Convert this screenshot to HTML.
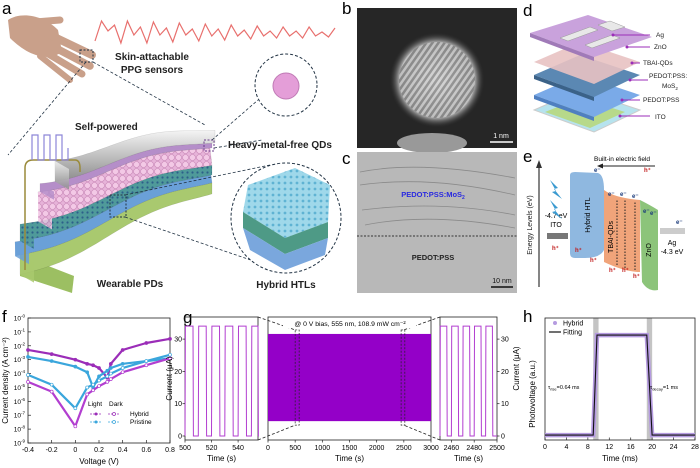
<!DOCTYPE html>
<html><head><meta charset="utf-8"><style>
html,body{margin:0;padding:0;background:#fff;width:700px;height:468px;overflow:hidden}
svg{display:block;font-family:"Liberation Sans",Arial,sans-serif}
</style></head><body>
<svg id="fig" width="700" height="468" viewBox="0 0 700 468" xmlns="http://www.w3.org/2000/svg">
<defs>
<pattern id="lat" width="5" height="5" patternUnits="userSpaceOnUse" patternTransform="rotate(35)"><rect width="5" height="5" fill="#777"/><rect width="2.5" height="5" fill="#ddd"/></pattern>
<pattern id="hex" width="6" height="6" patternUnits="userSpaceOnUse"><rect width="6" height="6" fill="#9fd8ea"/><circle cx="3" cy="3" r="1.4" fill="#5fb3d3"/></pattern>
<pattern id="dots" width="5" height="5" patternUnits="userSpaceOnUse"><rect width="5" height="5" fill="#4f9a9a"/><circle cx="2.5" cy="2.5" r="1.1" fill="#2d5f8a"/></pattern>
<pattern id="pink" width="7" height="7" patternUnits="userSpaceOnUse"><rect width="7" height="7" fill="#e7b3d9"/><circle cx="3.5" cy="3.5" r="3" fill="#f3c9e6" stroke="#c98ab8" stroke-width="0.6"/></pattern>
<radialGradient id="blob" cx="0.5" cy="0.5" r="0.5"><stop offset="0" stop-color="#ccc"/><stop offset="0.8" stop-color="#999"/><stop offset="1" stop-color="#222" stop-opacity="0"/></radialGradient>
<linearGradient id="silver" x1="0" y1="0" x2="0" y2="1"><stop offset="0" stop-color="#f4f4f4"/><stop offset="1" stop-color="#8c8c8c"/></linearGradient>
</defs>

<!-- Panel a -->
<g>
<text x="2" y="14" font-size="17">a</text>
<g fill="#c9a08a" stroke="#c9a08a" stroke-linecap="round">
<path d="M8,20 C20,12 42,14 58,30 L62,52 C48,62 28,56 10,38Z" stroke="none"/>
<line x1="48" y1="34" x2="92" y2="55" stroke-width="8"/>
<line x1="48" y1="44" x2="90" y2="66" stroke-width="7.5"/>
<line x1="45" y1="52" x2="82" y2="74" stroke-width="7"/>
<line x1="40" y1="56" x2="70" y2="80" stroke-width="6"/>
<line x1="35" y1="22" x2="60" y2="20" stroke-width="7"/>
</g>
<rect x="80" y="50" width="13" height="12" fill="none" stroke="#234" stroke-dasharray="2,1.5"/>
<path id="ppg" fill="none" stroke="#e8706e" stroke-width="1.2"/>
<text x="152" y="60" font-size="10" font-weight="bold" text-anchor="middle" fill="#222">Skin-attachable</text>
<text x="152" y="73" font-size="10" font-weight="bold" text-anchor="middle" fill="#222">PPG sensors</text>
<line x1="86" y1="62" x2="8" y2="155" stroke="#234" stroke-dasharray="3,2" stroke-width="0.8"/>
<line x1="93" y1="62" x2="205" y2="125" stroke="#234" stroke-dasharray="3,2" stroke-width="0.8"/>
<g id="device"></g>
<path d="M25,270 V168 Q25,160 33,160 H75 Q80,160 80,168 V172" fill="none" stroke="#9a8a3a" stroke-width="1.5"/>
<path d="M32,160 v-25 h6 v25 h6 v-25 h6 v25 h6 v-25 h6 v25 h6 v-12" fill="none" stroke="#8d86d8" stroke-width="1.2"/>
<text x="75" y="130" font-size="10" font-weight="bold" fill="#222">Self-powered</text>
<circle cx="286" cy="85" r="31" fill="#fff" stroke="#234" stroke-dasharray="3,2"/>
<circle cx="286" cy="86" r="13" fill="#e49ed8" stroke="#c07ab5"/>
<rect x="204" y="140" width="10" height="11" fill="none" stroke="#6a3b8a" stroke-dasharray="2,1.5"/>
<line x1="212" y1="140" x2="258" y2="100" stroke="#234" stroke-dasharray="3,2" stroke-width="0.8"/>
<line x1="214" y1="148" x2="262" y2="140" stroke="#234" stroke-dasharray="3,2" stroke-width="0.8"/>
<text x="228" y="148" font-size="10" font-weight="bold" fill="#222">Heavy-metal-free QDs</text>
<rect x="110" y="195" width="16" height="22" fill="none" stroke="#234" stroke-dasharray="2,1.5"/>
<line x1="125" y1="195" x2="270" y2="165" stroke="#234" stroke-dasharray="3,2" stroke-width="0.8"/>
<line x1="125" y1="217" x2="280" y2="270" stroke="#234" stroke-dasharray="3,2" stroke-width="0.8"/>
<circle cx="286" cy="218" r="55" fill="#fff" stroke="#234" stroke-dasharray="3,2"/>
<path d="M243,212 L248,185 L295,168 L330,185 L328,222 L285,238Z" fill="url(#hex)"/>
<path d="M243,212 L285,238 L328,222 L328,238 L285,254 L243,228Z" fill="#4e9a86"/>
<path d="M243,228 L285,254 L328,238 L325,255 L285,270 L250,250Z" fill="#7aa7dd"/>
<text x="130" y="287" font-size="10" font-weight="bold" text-anchor="middle" fill="#222">Wearable PDs</text>
<text x="286" y="288" font-size="10" font-weight="bold" text-anchor="middle" fill="#222">Hybrid HTLs</text>
</g>

<!-- Panel b -->
<g>
<text x="342" y="14" font-size="17">b</text>
<rect x="357" y="8" width="160" height="140" fill="#262626"/>
<circle cx="437" cy="80" r="48" fill="url(#blob)"/>
<circle cx="437" cy="80" r="38" fill="url(#lat)" opacity="0.55"/>
<ellipse cx="432" cy="143" rx="35" ry="10" fill="#999"/>
<line x1="490" y1="142" x2="513" y2="142" stroke="#fff" stroke-width="1.5"/>
<text x="501" y="138" font-size="7" fill="#fff" text-anchor="middle">1 nm</text>
</g>

<!-- Panel c -->
<g>
<text x="342" y="164" font-size="17">c</text>
<rect x="357" y="152" width="160" height="141" fill="#b8b8b8"/>
<path d="M360,172 Q420,160 515,178 M360,185 Q430,175 515,195 M362,210 Q440,200 515,215 M365,225 Q430,212 515,228" stroke="#8a8a8a" stroke-width="0.8" fill="none"/>
<line x1="357" y1="236" x2="517" y2="236" stroke="#333" stroke-dasharray="2,1.5"/>
<text x="433" y="197" font-size="7.5" font-weight="bold" fill="#2a2ae0" text-anchor="middle">PEDOT:PSS:MoS<tspan font-size="5" dy="2">2</tspan></text>
<text x="433" y="260" font-size="7.5" font-weight="bold" fill="#222" text-anchor="middle">PEDOT:PSS</text>
<line x1="491" y1="287" x2="513" y2="287" stroke="#111" stroke-width="1.5"/>
<text x="502" y="283" font-size="7" fill="#111" text-anchor="middle">10 nm</text>
</g>

<!-- Panel d -->
<g>
<text x="523" y="16" font-size="17">d</text>
<path d="M534,110 L580,90 L640,110 L594,132Z" fill="#b6e3ee" stroke="#ccc"/>
<path d="M545,112 L580,98 L625,112 L590,128Z" fill="#b7d98a"/>
<path d="M534,95 L580,75 L640,95 L594,117Z" fill="#7aaae8"/>
<path d="M534,95 L594,117 L594,121 L534,99Z" fill="#4f7fc0"/>
<path d="M534,75 L580,55 L640,75 L594,97Z" fill="#5b88b3"/>
<path d="M534,75 L594,97 L594,101 L534,79Z" fill="#3b6288"/>
<path d="M534,62 L580,42 L640,62 L594,84Z" fill="#e8c2c2" opacity="0.9"/>
<path d="M530,33 L588,15 L652,37 L594,57Z" fill="#c9a2dc"/>
<path d="M530,33 L594,57 L594,61 L530,37Z" fill="#a07ab8"/>
<path d="M560,38 L590,27 L598,30 L568,41Z M585,45 L612,35 L620,38 L592,48Z M598,25 L610,21 L625,27 L612,31Z" fill="#e8e8e8" stroke="#999" stroke-width="0.5"/>
<g font-size="6.5" fill="#222">
<line x1="613" y1="35" x2="650" y2="35" stroke="#9b2db8"/><circle cx="613" cy="35" r="1.5" fill="#9b2db8"/>
<text x="656" y="37">Ag</text>
<line x1="627" y1="47" x2="650" y2="47" stroke="#9b2db8"/><circle cx="627" cy="47" r="1.5" fill="#9b2db8"/>
<text x="654" y="49">ZnO</text>
<line x1="632" y1="63" x2="640" y2="63" stroke="#9b2db8"/><circle cx="632" cy="63" r="1.5" fill="#9b2db8"/>
<text x="643" y="65">TBAI-QDs</text>
<line x1="630" y1="80" x2="648" y2="80" stroke="#9b2db8"/><circle cx="630" cy="80" r="1.5" fill="#9b2db8"/>
<text x="649" y="78">PEDOT:PSS:</text>
<text x="662" y="88">MoS<tspan font-size="4.5" dy="2">2</tspan></text>
<line x1="622" y1="100" x2="640" y2="100" stroke="#9b2db8"/><circle cx="622" cy="100" r="1.5" fill="#9b2db8"/>
<text x="643" y="102">PEDOT:PSS</text>
<line x1="620" y1="116" x2="650" y2="116" stroke="#9b2db8"/><circle cx="620" cy="116" r="1.5" fill="#9b2db8"/>
<text x="655" y="119">ITO</text>
</g>
</g>

<!-- Panel e -->
<g>
<text x="523" y="162" font-size="17">e</text>
<line x1="539" y1="287" x2="539" y2="164" stroke="#333" stroke-width="1.2"/>
<path d="M536,168 L539,160 L542,168Z" fill="#333"/>
<text transform="translate(532,225) rotate(-90)" font-size="7" text-anchor="middle" fill="#222">Energy Levels (eV)</text>
<text x="622" y="161" font-size="6.5" text-anchor="middle">Built-in electric field</text>
<line x1="655" y1="166" x2="600" y2="166" stroke="#222"/><path d="M597,166 L603,163.5 L603,168.5Z" fill="#222"/>
<rect x="547" y="233" width="21" height="6" fill="#777"/>
<text x="556" y="218" font-size="7" text-anchor="middle">-4.7 eV</text>
<text x="556" y="227" font-size="7" text-anchor="middle">ITO</text>
<path d="M570,175 Q570,172 575,172 L598,173 Q604,175 604,190 L604,250 Q600,258 585,258 L575,258 Q570,258 570,253Z" fill="#8fb8e0"/>
<text transform="translate(590,215) rotate(-90)" font-size="7" text-anchor="middle">Hybrid HTL</text>
<path d="M604,190 Q615,198 640,200 L640,272 Q625,272 604,262Z" fill="#f0a47a"/>
<text transform="translate(613,237) rotate(-90)" font-size="7" text-anchor="middle">TBAI-QDs</text>
<path d="M640,200 Q650,205 658,210 L658,290 Q648,292 642,282Z" fill="#8cc47a"/>
<text transform="translate(651,250) rotate(-90)" font-size="7" text-anchor="middle">ZnO</text>
<rect x="660" y="228" width="25" height="6" fill="#ccc"/>
<text x="672" y="245" font-size="7" text-anchor="middle">Ag</text>
<text x="672" y="254" font-size="7" text-anchor="middle">-4.3 eV</text>
<path d="M550,180 l8,8 -4,1 8,10 -10,-7 4,-1Z M550,200 l8,8 -4,1 8,10 -10,-7 4,-1Z" fill="#3a9ad0"/>
<g stroke="#222" stroke-dasharray="1.5,1.5"><line x1="617" y1="265" x2="617" y2="200"/><line x1="625" y1="268" x2="625" y2="200"/><line x1="635" y1="270" x2="635" y2="202"/></g>
<g font-size="6" font-weight="bold"><text x="594" y="172" fill="#1a3a7a">e⁻</text><text x="644" y="172" fill="#c01818">h⁺</text>
<text x="608" y="196" fill="#1a3a7a">e⁻</text><text x="620" y="196" fill="#1a3a7a">e⁻</text><text x="632" y="198" fill="#1a3a7a">e⁻</text><text x="643" y="213" fill="#1a3a7a">e⁻</text><text x="650" y="215" fill="#1a3a7a">e⁻</text><text x="676" y="224" fill="#1a3a7a">e⁻</text>
<text x="552" y="250" fill="#c01818">h⁺</text><text x="575" y="252" fill="#c01818">h⁺</text><text x="590" y="262" fill="#c01818">h⁺</text><text x="609" y="272" fill="#c01818">h⁺</text><text x="622" y="272" fill="#c01818">h⁺</text><text x="633" y="278" fill="#c01818">h⁺</text></g>
</g>

<!-- Panel labels bottom -->
<text x="2" y="322" font-size="17">f</text>
<text x="183" y="323" font-size="17">g</text>
<text x="523" y="322" font-size="17">h</text>

<g id="chartF"></g>
<g id="chartG"></g>
<g id="chartH"></g>
</svg>
<script>
// ---------- data ----------
const ppgY = [8,-12,-2,-8,10,-12,2,-6,10,-11,2,-5,9,-10,2,-4,8,-9,3,-4,7,-8,3,-3,6,-7,3,-2,5,-6,3,-2,5,-6,3,-1,4,-5];
const fVolt = [-0.4,-0.2,0,0.1,0.15,0.2,0.27,0.3,0.4,0.6,0.8];
const fHybridLight = [-2.3,-2.6,-3.0,-3.3,-3.4,-3.6,-4.3,-3.3,-2.3,-1.8,-1.5];
const fPristineLight = [-2.8,-3.1,-3.5,-3.9,-5.0,-4.2,-3.8,-3.6,-3.3,-3.1,-2.9];
const fPristineDark = [-4.1,-4.8,-6.5,-5.0,-4.8,-4.5,-4.2,-4.0,-3.6,-3.1,-2.65];
const fHybridDark = [-4.6,-5.3,-7.8,-5.5,-5.2,-4.9,-4.6,-4.4,-3.9,-3.4,-2.9];
const fYTicks = [0,-1,-2,-3,-4,-5,-6,-7,-8,-9];
const fXTicks = ["-0.4","-0.2","0","0.2","0.4","0.6","0.8"];
const gHigh = 34, gLow = 0, gPeriod = 10, gOn = 6;
const gLeftStart = [500,510,520,530,540,550];
const gRightStart = [2450,2460,2470,2480,2490];
const gBand = [4.6, 31.6];
const gLeftTicks = [500,520,540];
const gMidTicks = [0,500,1000,1500,2000,2500,3000];
const gRightTicks = [2460,2480,2500];
const gYTicks = [0,10,20,30];
const hRise = 9.3, hFall = 19.3, hLow = 0.04, hHigh = 0.86;
const hXTicks = [0,4,8,12,16,20,24,28];

const NS = "http://www.w3.org/2000/svg";
function el(tag, attrs, parent, txt){const e=document.createElementNS(NS,tag);for(const k in attrs)e.setAttribute(k,attrs[k]);if(txt!==undefined)e.textContent=txt;parent.appendChild(e);return e;}

// PPG wave
(function(){let d="";const x0=95,x1=335;ppgY.forEach((v,i)=>{const x=x0+(x1-x0)*i/(ppgY.length-1);const y=33+v;d+=(i?" L":"M")+x.toFixed(1)+","+y.toFixed(1);});document.getElementById("ppg").setAttribute("d",d);})();

// device illustration
(function(){
const g=document.getElementById("device");
const yb=x=>255-(x-20)*0.39+5*Math.sin((x-20)/28);
const s=x=>1.4-0.6*(x-20)/190;
const layers=[[20,212,0,14,"#a9c96f","substrate"],[15,212,-10,0,"#6aa0d8","ito"],[20,212,-22,-10,"url(#dots)","htl"],[38,212,-44,-22,"url(#pink)","qds"],[40,212,-50,-44,"#b58ec9","zno"],[55,215,-66,-50,"url(#silver)","ag"]];
const front=el("path",{d:"M20,255 L20,276 L72,293 L74,276Z",fill:"#9cbf62"},g);


layers.forEach(([x0,x1,a,b,f,n])=>{let top="",bot="";for(let x=x0;x<=x1;x+=4){top+=(x===x0?"M":" L")+x+","+(yb(x)+a*s(x)).toFixed(1);}
for(let x=x1;x>=x0;x-=4){bot+=" L"+x+","+(yb(x)+b*s(x)).toFixed(1);}
const p=el("path",{d:top+bot+"Z",fill:f,stroke:"rgba(0,0,0,0.15)","stroke-width":0.5},g);


const k=s(x0);
const e=el("path",{d:`M${x0},${(yb(x0)+a*k).toFixed(1)} L${x0+14},${(yb(x0)+a*k+8).toFixed(1)} L${x0+14},${(yb(x0)+b*k+8).toFixed(1)} L${x0},${(yb(x0)+b*k).toFixed(1)}Z`,fill:f,opacity:0.85},g);

});
})();

// ---------- chart f ----------
(function(){
const g=document.getElementById("chartF");
const L=28,R=170,T=318,B=443;
const sx=v=>L+(v+0.4)/1.2*(R-L);
const sy=d=>T+(-d)/9*(B-T);
const ax=el("rect",{x:L,y:T,width:R-L,height:B-T,fill:"none",stroke:"#222","stroke-width":0.8},g);

fYTicks.forEach(d=>{el("line",{x1:L,x2:L+3,y1:sy(d),y2:sy(d),stroke:"#222","stroke-width":0.7},g);
const t=el("text",{x:L-3,y:sy(d)+2.5,"font-size":6.5,"text-anchor":"end"},g,"10");el("tspan",{dy:-3,"font-size":4.5},t,d===0?"-0":String(d));
});
fXTicks.forEach(s=>{const v=parseFloat(s);el("line",{x1:sx(v),x2:sx(v),y1:B,y2:B-3,stroke:"#222","stroke-width":0.7},g);
const t=el("text",{x:sx(v),y:B+9,"font-size":7,"text-anchor":"middle"},g,s);
});
const xt=el("text",{x:(L+R)/2,y:B+21,"font-size":8,"text-anchor":"middle"},g,"Voltage (V)");

const yt=el("text",{transform:`translate(8,${(T+B)/2}) rotate(-90)`,"font-size":8,"text-anchor":"middle"},g,"Current density (A cm⁻²)");

const series=[[fHybridLight,"#9b2db8",true,"hybrid-light"],[fPristineLight,"#3aa6dc",true,"pristine-light"],[fPristineDark,"#3aa6dc",false,"pristine-dark"],[fHybridDark,"#b23ed0",false,"hybrid-dark"]];
series.forEach(([arr,c,filled,nm])=>{let d="";arr.forEach((v,i)=>d+=(i?" L":"M")+sx(fVolt[i]).toFixed(1)+","+sy(v).toFixed(1));
const p=el("path",{d:d,fill:"none",stroke:c,"stroke-width":2.2,"stroke-linejoin":"round"},g);

arr.forEach((v,i)=>{const m=el("circle",{cx:sx(fVolt[i]),cy:sy(v),r:1.5,fill:filled?c:"#fff",stroke:c,"stroke-width":0.7},g);
});});
const lg=el("g",{},g);
el("text",{x:88,y:406,"font-size":6.5},lg,"Light");el("text",{x:109,y:406,"font-size":6.5},lg,"Dark");
[[416,"#9b2db8","Hybrid"],[424,"#3aa6dc","Pristine"]].forEach(([y,c,n])=>{
el("line",{x1:90,x2:102,y1:y-2,y2:y-2,stroke:c,"stroke-width":0.8,"stroke-dasharray":"2,1"},lg);el("circle",{cx:96,cy:y-2,r:1.5,fill:c},lg);
el("line",{x1:108,x2:120,y1:y-2,y2:y-2,stroke:c,"stroke-width":0.8,"stroke-dasharray":"2,1"},lg);el("circle",{cx:114,cy:y-2,r:1.5,fill:"#fff",stroke:c,"stroke-width":0.7},lg);
const t=el("text",{x:130,y:y,"font-size":6.5},lg,n);});
})();

// ---------- chart g ----------
(function(){
const g=document.getElementById("chartG");
const T=317,B=440;const sy=v=>436-v*3.23;
const panels=[{L:185,R:258,d0:500,d1:555,starts:gLeftStart,ticks:gLeftTicks,nm:"left"},{L:268,R:431,d0:0,d1:3000,ticks:gMidTicks,nm:"mid"},{L:440,R:497,d0:2450,d1:2500,starts:gRightStart,ticks:gRightTicks,nm:"right"}];
panels.forEach(p=>{
const sx=v=>p.L+(v-p.d0)/(p.d1-p.d0)*(p.R-p.L);
const fr=el("rect",{x:p.L,y:T,width:p.R-p.L,height:B-T,fill:"none",stroke:"#222","stroke-width":0.8},g);

p.ticks.forEach(v=>{el("line",{x1:sx(v),x2:sx(v),y1:B,y2:B+2.5,stroke:"#222","stroke-width":0.7},g);
const t=el("text",{x:sx(v),y:B+10,"font-size":7,"text-anchor":"middle"},g,String(v));});
const xt=el("text",{x:(p.L+p.R)/2,y:B+21,"font-size":8,"text-anchor":"middle"},g,"Time (s)");

if(p.starts){let d="";p.starts.forEach((s,i)=>{const a=Math.max(s,p.d0),b=Math.min(s+gOn,p.d1),c=Math.min(s+gPeriod,p.d1);
if(a>=p.d1)return;d+=(d?" L":"M")+sx(a).toFixed(1)+","+sy(gLow)+" L"+sx(a+0.3).toFixed(1)+","+sy(gHigh)+" L"+sx(b).toFixed(1)+","+sy(gHigh)+" L"+sx(b+0.3).toFixed(1)+","+sy(gLow)+" L"+sx(c).toFixed(1)+","+sy(gLow);});
const pa=el("path",{d:d,fill:"none",stroke:"#b23ed0","stroke-width":1},g);}
else{const r=el("rect",{x:sx(0),y:sy(gBand[1]),width:sx(3000)-sx(0),height:sy(gBand[0])-sy(gBand[1]),fill:"#9400c8"},g);

[[500,555],[2450,2500]].forEach(([a,b])=>{el("rect",{x:sx(a),y:sy(gBand[1])-4,width:sx(b)-sx(a)+1,height:sy(gBand[0])-sy(gBand[1])+8,fill:"none",stroke:"#222","stroke-dasharray":"2,1.5","stroke-width":0.7},g);});
el("path",{d:`M258,${T} L${sx(500)},${sy(gBand[1])-4} M258,${B} L${sx(500)},${sy(gBand[0])+4} M440,${T} L${sx(2500)},${sy(gBand[1])-4} M440,${B} L${sx(2500)},${sy(gBand[0])+4}`,stroke:"#222","stroke-dasharray":"3,2",fill:"none","stroke-width":0.8},g);
el("rect",{x:283,y:318,width:133,height:10,fill:"#fff"},g);
const t=el("text",{x:350,y:326,"font-size":6.8,"text-anchor":"middle"},g,"@ 0 V bias, 555 nm, 108.9 mW cm⁻²");}
});
gYTicks.forEach(v=>{[[185,-1,"end",182],[497,1,"start",501]].forEach(([x,dir,anc,tx])=>{el("line",{x1:x,x2:x+dir*2.5,y1:sy(v),y2:sy(v),stroke:"#222","stroke-width":0.7},g);
const t=el("text",{x:tx,y:sy(v)+2.5,"font-size":7,"text-anchor":anc},g,String(v));});});
const y1=el("text",{transform:`translate(172,${(T+B)/2}) rotate(-90)`,"font-size":8,"text-anchor":"middle"},g,"Current (μA)");
const y2=el("text",{transform:`translate(519,${(T+B)/2-10}) rotate(-90)`,"font-size":8,"text-anchor":"middle"},g,"Current (μA)");
})();

// ---------- chart h ----------
(function(){
const g=document.getElementById("chartH");
const L=545,R=695,T=318,B=440;const sx=v=>L+v/28*(R-L);const sy=v=>B-v*(B-T);
[[hRise,"rise"],[hFall,"fall"]].forEach(([t,n])=>{const r=el("rect",{x:sx(t-0.3),y:T,width:sx(1)-sx(0),height:B-T,fill:"#c4c4c4"},g);});
const fr=el("rect",{x:L,y:T,width:R-L,height:B-T,fill:"none",stroke:"#222","stroke-width":0.8},g);
hXTicks.forEach(v=>{el("line",{x1:sx(v),x2:sx(v),y1:B,y2:B-2.5,stroke:"#222","stroke-width":0.7},g);
const t=el("text",{x:sx(v),y:B+9,"font-size":7,"text-anchor":"middle"},g,String(v));});
const xt=el("text",{x:(L+R)/2,y:B+21,"font-size":8,"text-anchor":"middle"},g,"Time (ms)");
const yt=el("text",{transform:`translate(535,${(T+B)/2+15}) rotate(-90)`,"font-size":8,"text-anchor":"middle"},g,"Photovoltage (a.u.)");
const pts=[[0,hLow],[hRise-0.3,hLow],[hRise+0.4,hHigh],[hFall-0.3,hHigh],[hFall+0.7,hLow],[28,hLow]];
const band=el("path",{d:pts.map((p,i)=>(i?"L":"M")+sx(p[0]).toFixed(1)+","+sy(p[1]).toFixed(1)).join(" "),fill:"none",stroke:"#b59be0","stroke-width":4.5},g);

const fit=el("path",{d:pts.map((p,i)=>(i?"L":"M")+sx(p[0]).toFixed(1)+","+sy(p[1]).toFixed(1)).join(" "),fill:"none",stroke:"#111","stroke-width":1.1},g);

const lg=el("g",{},g);
el("circle",{cx:555,cy:323,r:2,fill:"#b59be0"},lg);el("text",{x:563,y:325.5,"font-size":7},lg,"Hybrid");
el("line",{x1:549,x2:561,y1:332,y2:332,stroke:"#111","stroke-width":1.2},lg);el("text",{x:563,y:334.5,"font-size":7},lg,"Fitting");
const a=el("text",{x:548,y:389,"font-size":5.5},g,"τ");el("tspan",{"font-size":4,dy:1.5},a,"rise");el("tspan",{dy:-1.5},a,"=0.64 ms");

const b=el("text",{x:650,y:389,"font-size":5.5},g,"τ");el("tspan",{"font-size":4,dy:1.5},b,"decay");el("tspan",{dy:-1.5},b,"=1 ms");

})();
</script>
</body></html>
